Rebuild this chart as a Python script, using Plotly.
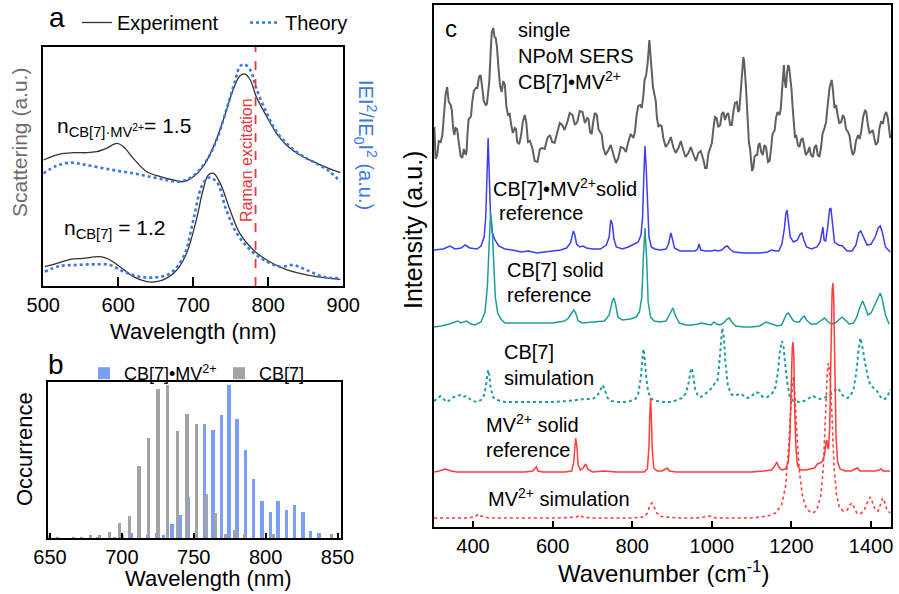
import plotly.graph_objects as go

W, H = 899, 594
FONT = "Liberation Sans, Arial, Helvetica, sans-serif"

# ---------------- Panel a data (x: nm, y: a.u.) ----------------
A_UP_EXP_NM = [500, 522, 540, 558, 571, 584, 598, 607, 620, 638, 656, 673, 687, 700, 713, 727, 740, 753, 762, 769, 776, 784, 798, 811, 824, 842, 860, 878, 896]
A_UP_EXP_V = [378, 396, 400, 400, 403, 413, 428, 418, 383, 343, 328, 318, 313, 328, 358, 418, 498, 588, 630, 636, 618, 568, 508, 458, 423, 393, 373, 355, 340]
A_UP_TH_NM = [500, 518, 536, 553, 576, 598, 620, 642, 664, 682, 700, 718, 731, 744, 756, 762, 768, 776, 784, 798, 811, 829, 847, 864, 882, 896]
A_UP_TH_V = [338, 361, 370, 365, 355, 346, 338, 328, 318, 313, 330, 378, 438, 528, 618, 658, 665, 648, 593, 518, 463, 418, 388, 368, 343, 313]
A_LO_EXP_NM = [502, 518, 536, 553, 576, 589, 602, 620, 638, 651, 664, 678, 691, 704, 713, 720, 727, 736, 749, 762, 780, 798, 820, 842, 864, 896]
A_LO_EXP_V = [58, 68, 80, 83, 88, 78, 58, 28, 13, 13, 23, 48, 98, 198, 288, 333, 338, 308, 228, 158, 108, 78, 53, 38, 28, 20]
A_LO_TH_NM = [502, 522, 544, 567, 589, 607, 629, 651, 669, 687, 700, 711, 720, 731, 744, 758, 776, 798, 816, 833, 851, 873, 896]
A_LO_TH_V = [43, 60, 63, 65, 63, 43, 28, 26, 38, 88, 198, 298, 325, 313, 228, 158, 108, 73, 58, 63, 48, 28, 23]
RAMAN_NM = 783

# ---------------- Panel b data (histogram) ----------------
B_MV_NM = [655.3, 666.5, 672.1, 683.2, 694.9, 700.7, 706.5, 712.3, 718.1, 724.0, 729.3, 735.1, 740.7,
           746.3, 752.1, 757.9, 763.6, 769.4, 774.7, 780.3, 786.1, 791.9, 797.7, 803.5, 808.8, 814.6,
           820.4, 826.2, 831.6, 837.3]
B_MV_N = [5, 5, 5, 5, 5, 12, 18, 12, 12, 18, 12, 45, 70,
          125, 150, 345, 327, 370, 460, 360, 265, 180, 112, 80, 112, 87,
          100, 80, 22, 17]
B_CB_NM = [650.0, 678.1, 684.6, 691.4, 698.7, 705.2, 712.1, 718.9, 725.3, 731.9, 738.8, 745.5, 752.1,
           759.0, 765.5, 772.2, 778.9, 785.7, 805.3, 846.0]
B_CB_N = [10, 10, 12, 20, 47, 67, 217, 302, 450, 460, 323, 375, 343,
          133, 78, 15, 25, 15, 15, 15]

# ---------------- Panel c data (x: cm-1, y: a.u. offset) ----------------
SERS = [(303,400),(306,368),(310,372),(314,386),(319,385),(323,392),(327,412),(331,432),(335,440),(339,425),
        (344,422),(347,416),(350,399),(353,392),(356,399),(360,398),(365,382),(369,371),(373,369),(377,378),
        (382,372),(384,376),(386,392),(389,408),(392,409),(395,411),(398,425),(402,436),(407,439),(411,439),
        (415,450),(419,452),(423,440),(427,426),(432,422),(435,423),(438,435),(441,446),(444,472),(447,494),
        (451,499),(454,490),(457,489),(460,481),(464,459),(468,441),(472,435),(476,446),(480,442),(484,420),
        (488,412),(492,413),(496,402),(500,394),(505,399),(508,398),(511,385),(516,383),(521,392),(525,405),
        (530,412),(534,404),(538,385),(543,386),(549,379),(555,366),(562,365),(568,378),(574,379),(580,378),
        (587,389),(593,392),(599,385),(605,384),(612,395),(618,404),(624,402),(630,397),(637,405),(643,414),
        (650,412),(656,402),(662,405),(668,416),(675,415),(681,404),(687,409),(690,408),(694,395),(698,393),
        (702,405),(706,414),(711,412),(715,398),(719,395),(723,393),(727,380),(733,372),(740,377),(746,382),
        (753,372),(759,364),(765,369),(771,380),(778,379),(784,375),(790,385),(796,393),(803,389),(807,396),
        (811,412),(815,421),(820,422),(824,419),(828,432),(831,447),(835,452),(839,465),(843,487),(846,474),
        (849,455),(852,440),(856,432),(859,426),(862,409),(866,400),(870,402),(874,401),(878,389),(884,380),
        (891,384),(897,390),(903,380),(909,374),(916,379),(922,386),(928,377),(934,370),(941,374),(947,380),
        (954,372),(960,366),(966,374),(972,376),(979,367),(983,359),(987,359),(991,373),(996,379),(1000,384),
        (1004,399),(1008,410),(1012,409),(1016,400),(1021,402),(1025,413),(1029,415),(1033,407),(1037,412),(1041,414),
        (1046,402),(1050,402),(1054,415),(1058,424),(1063,425),(1066,415),(1069,417),(1071,428),(1073,445),(1076,462),
        (1079,470),(1081,466),(1084,452),(1086,438),(1089,415),(1091,398),(1093,385),(1096,378),(1099,365),(1101,356),
        (1104,359),(1107,370),(1111,372),(1114,372),(1117,382),(1120,384),(1124,375),(1128,372),(1132,382),(1136,380),
        (1141,365),(1145,366),(1149,379),(1152,392),(1155,395),(1158,397),(1161,409),(1165,415),(1170,412),(1173,418),
        (1176,435),(1178,452),(1181,462),(1183,446),(1186,439),(1189,455),(1192,462),(1194,460),(1197,449),(1200,438),
        (1203,419),(1206,399),(1209,389),(1212,392),(1216,382),(1220,380),(1224,387),(1228,389),(1232,380),(1236,372),
        (1241,375),(1245,380),(1249,372),(1254,370),(1258,380),(1262,382),(1266,372),(1270,370),(1274,379),(1278,393),
        (1283,399),(1287,405),(1291,422),(1296,440),(1301,447),(1304,438),(1308,419),(1312,422),(1316,412),(1320,404),
        (1325,405),(1329,412),(1333,409),(1337,398),(1342,395),(1346,391),(1350,379),(1354,372),(1358,375),(1362,386),
        (1367,392),(1371,388),(1375,395),(1380,410),(1385,417),(1388,415),(1392,402),(1396,394),(1400,395),(1404,397),
        (1408,389),(1412,382),(1417,385),(1421,399),(1425,405),(1430,404),(1434,412),(1438,415),(1442,409),(1445,396),
        (1448,389)]

CBMV_SOLID = [(302,277),(325,278),(342,281),(355,278),(370,279),(380,282),(392,279),(410,278),(420,281),(428,290),
              (432,310),(435,345),(438,389),(441,350),(444,312),(448,295),(455,287),(465,281),(480,278),(500,277),
              (520,275),(540,276),(560,274),(580,275),(600,276),(620,277),(635,279),(645,284),(652,296),(656,292),
              (660,283),(668,280),(676,281),(685,279),(700,278),(720,278),(735,282),(742,290),(746,307),(750,303),
              (754,288),(760,280),(775,278),(790,280),(805,283),(815,285),(822,292),(826,310),(829,350),(832,381),
              (835,360),(838,320),(842,290),(848,280),(856,278),(870,277),(885,278),(891,283),(897,294),(901,288),
              (906,279),(920,276),(940,276),(958,276),(964,278),(968,283),(972,277),(985,276),(1000,276),(1008,277),
              (1015,276),(1025,277),(1033,280),(1039,281),(1045,278),(1055,275),(1080,274),(1100,274),(1120,274),
              (1140,275),(1150,277),(1160,276),(1168,276),(1176,283),(1182,298),(1186,314),(1189,317),(1192,306),
              (1197,290),(1205,285),(1215,287),(1222,293),(1226,294),(1231,287),(1238,280),(1250,278),(1264,280),
              (1272,285),(1276,295),(1279,300),(1282,287),(1286,286),(1291,300),(1296,318),(1299,319),(1303,305),
              (1308,285),(1318,282),(1328,281),(1340,276),(1352,276),(1362,282),(1369,294),(1374,296),(1380,290),
              (1390,282),(1400,283),(1410,290),(1418,299),(1423,301),(1428,295),(1436,280),(1448,275)]

CB_SOLID = [(302,200),(320,201),(340,203),(355,205),(362,206),(370,204),(383,206),(395,203),(405,202),(420,205),
            (430,215),(436,240),(440,285),(444,314),(448,300),(452,260),(456,230),(462,214),(470,208),(480,204),
            (500,204),(520,204),(560,204),(600,204),(630,206),(640,209),(648,214),(653,217),(658,214),(664,206),
            (675,204),(700,205),(730,206),(742,212),(750,226),(754,229),(758,223),(764,210),(775,207),(795,208),
            (810,210),(818,215),(824,230),(828,270),(832,299),(836,270),(840,225),(846,210),(855,206),(870,205),
            (885,206),(893,212),(899,218),(902,219),(908,212),(918,204),(935,202),(950,202),(965,203),(973,204),
            (985,203),(998,202),(1005,205),(1012,203),(1020,202),(1030,204),(1038,208),(1044,209),(1050,205),
            (1060,201),(1080,200),(1100,200),(1120,201),(1136,205),(1150,203),(1165,201),(1175,202),(1183,208),
            (1188,213),(1192,214),(1198,210),(1205,206),(1212,205),(1220,205),(1226,209),(1232,211),(1238,207),
            (1248,203),(1262,203),(1274,206),(1283,209),(1290,206),(1300,203),(1310,204),(1320,208),(1327,210),
            (1335,207),(1345,203),(1356,204),(1364,210),(1372,220),(1379,226),(1386,219),(1392,212),(1400,214),
            (1410,222),(1418,230),(1423,234),(1428,228),(1436,212),(1445,203)]

CB_SIM = [(302,126),(310,128),(318,131),(326,128),(334,125),(342,127),(352,130),(360,131),(367,132),(375,130),
          (383,131),(392,128),(400,126),(410,125),(420,127),(428,132),(433,142),(436,152),(438,157),(441,152),
          (444,140),(450,130),(460,127),(480,125),(520,125),(560,125),(600,125),(640,126),(660,127),(680,128),
          (700,128),(712,131),(720,137),(726,142),(731,137),(738,129),(748,126),(765,125),(780,125),(795,126),
          (808,128),(815,133),(821,148),(825,168),(828,178),(831,170),(835,150),(840,135),(848,128),(860,126),
          (880,125),(900,125),(915,127),(925,129),(935,134),(942,145),(946,155),(949,159),(953,152),(958,138),
          (965,131),(972,130),(980,132),(990,136),(1000,139),(1008,144),(1014,146),(1018,160),(1022,185),(1026,199),
          (1030,190),(1034,165),(1040,142),(1048,133),(1058,131),(1068,133),(1075,133),(1082,130),(1090,129),
          (1100,131),(1110,135),(1118,134),(1128,130),(1140,130),(1152,134),(1160,140),(1166,155),(1171,176),
          (1176,186),(1180,180),(1185,160),(1190,143),(1196,130),(1205,126),(1220,125),(1232,126),(1240,128),
          (1248,130),(1255,131),(1262,129),(1272,128),(1282,129),(1292,131),(1300,133),(1308,136),(1315,139),
          (1322,136),(1330,131),(1340,129),(1348,131),(1356,138),(1363,155),(1368,175),(1373,189),(1378,180),
          (1384,165),(1390,153),(1398,142),(1408,138),(1415,136),(1422,131),(1428,128),(1435,128),(1442,131),
          (1448,138)]

MV_SOLID = [(302,55),(315,56),(330,58),(345,56),(360,55),(380,55),(400,55),(430,55),(460,55),(500,55),
            (530,55),(550,56),(556,59),(559,60),(563,56),(575,55),(600,55),(630,55),(648,56),(653,65),
            (656,80),(658,89),(661,80),(664,62),(670,57),(677,59),(683,63),(688,58),(700,55),(730,56),
            (760,55),(800,55),(830,55),(838,58),(842,80),(844,110),(846,129),(848,110),(850,80),(854,59),
            (862,56),(875,56),(884,58),(888,59),(893,56),(910,55),(950,55),(1000,55),(1050,55),(1100,55),
            (1130,56),(1150,57),(1158,61),(1163,65),(1168,60),(1175,57),(1185,58),(1192,65),(1196,90),(1199,140),
            (1202,180),(1204,185),(1206,170),(1208,120),(1211,80),(1215,62),(1222,57),(1235,57),(1248,58),(1258,59),
            (1265,63),(1272,64),(1278,66),(1283,72),(1287,85),(1289,87),(1291,80),(1293,78),(1296,100),(1299,180),
            (1302,235),(1304,244),(1306,230),(1309,160),(1312,90),(1316,65),(1322,58),(1335,56),(1350,56),(1360,58),
            (1366,59),(1372,56),(1390,56),(1410,56),(1420,57),(1425,58),(1430,56),(1448,56)]

MV_SIM = [(302,9),(340,9),(380,9),(405,10),(413,13),(420,11),(440,9),(500,9),(560,9),(620,9),
          (660,10),(668,12),(675,10),(700,9),(760,9),(800,9),(830,10),(838,14),(844,21),(849,24),
          (854,21),(860,15),(868,11),(880,10),(920,9),(960,9),(980,10),(995,11),(1010,9),(1050,9),
          (1100,9),(1140,11),(1160,14),(1175,22),(1185,40),(1193,80),(1200,130),(1205,150),(1209,130),(1214,90),
          (1220,55),(1228,30),(1238,18),(1250,14),(1258,15),(1266,20),(1274,32),(1280,60),(1285,110),(1290,155),
          (1293,164),(1297,150),(1302,110),(1307,60),(1313,33),(1320,20),(1330,16),(1340,17),(1347,22),(1352,24),
          (1357,20),(1364,14),(1372,13),(1382,16),(1390,24),(1398,30),(1404,24),(1410,17),(1418,16),(1424,22),
          (1429,29),(1434,25),(1440,17),(1448,14)]

A_TICKS = [500, 600, 700, 800, 900]
B_TICKS = [650, 700, 750, 800, 850]
C_TICKS = [400, 600, 800, 1000, 1200, 1400]

# ---------------- helpers ----------------
def px(x):
    return x / W

def py(y):
    return 1 - y / H

def xs(pts):
    return [p[0] for p in pts]

def ys(pts):
    return [p[1] for p in pts]

C_GRAY = "#606060"
C_BLUE = "#3d3df2"
C_TEAL = "#1f9c9c"
C_RED = "#ff3b3b"
C_THEORY = "#3a78de"
C_BAR_BLUE = "#7b9ef7"
C_BAR_GRAY = "#a3a3a3"

fig = go.Figure()

# Panel a
fig.add_trace(go.Scatter(x=A_UP_EXP_NM, y=A_UP_EXP_V, mode="lines", line=dict(color="#333333", width=1.3, shape="spline"),
                         name="Experiment", legend="legend", xaxis="x", yaxis="y"))
fig.add_trace(go.Scatter(x=A_UP_TH_NM, y=A_UP_TH_V, mode="lines", line=dict(color=C_THEORY, width=2.6, dash="dot", shape="spline"),
                         name="Theory", legend="legend", xaxis="x", yaxis="y"))
fig.add_trace(go.Scatter(x=A_LO_EXP_NM, y=A_LO_EXP_V, mode="lines", line=dict(color="#333333", width=1.3, shape="spline"),
                         showlegend=False, xaxis="x", yaxis="y"))
fig.add_trace(go.Scatter(x=A_LO_TH_NM, y=A_LO_TH_V, mode="lines", line=dict(color=C_THEORY, width=2.6, dash="dot", shape="spline"),
                         showlegend=False, xaxis="x", yaxis="y"))

# Panel b
fig.add_trace(go.Bar(x=B_MV_NM, y=B_MV_N, width=2.2, marker=dict(color=C_BAR_BLUE, line=dict(width=0)),
                     name="CB[7]•MV<sup>2+</sup>", legend="legend2", xaxis="x2", yaxis="y2"))
fig.add_trace(go.Bar(x=B_CB_NM, y=B_CB_N, width=2.2, marker=dict(color=C_BAR_GRAY, line=dict(width=0)),
                     name="CB[7]", legend="legend2", xaxis="x2", yaxis="y2"))

# Panel c
for pts, col, wd, dash in [(SERS, C_GRAY, 2.0, "solid"), (CBMV_SOLID, C_BLUE, 1.5, "solid"),
                           (CB_SOLID, C_TEAL, 1.5, "solid"), (CB_SIM, C_TEAL, 2.0, "dot"),
                           (MV_SOLID, C_RED, 1.5, "solid"), (MV_SIM, C_RED, 1.6, "dot")]:
    fig.add_trace(go.Scatter(x=xs(pts), y=ys(pts), mode="lines", line=dict(color=col, width=wd, dash=dash),
                             showlegend=False, xaxis="x3", yaxis="y3"))

axis_common = dict(showline=True, mirror=True, linecolor="black", linewidth=1.5, showgrid=False, zeroline=False,
                   ticks="inside", tickcolor="black", tickwidth=1.5, automargin=False,
                   tickfont=dict(size=20, color="black", family=FONT))
yaxis_common = dict(showticklabels=False, ticks="", showline=True, mirror=True, linecolor="black", linewidth=1.5,
                    showgrid=False, zeroline=False, automargin=False)

fig.update_layout(
    width=W, height=H, margin=dict(l=0, r=0, t=0, b=0, pad=0, autoexpand=False),
    paper_bgcolor="white", plot_bgcolor="white",
    font=dict(family=FONT, color="black"),
    barmode="overlay", bargap=0,
    xaxis=dict(domain=[px(43.3), px(343.3)], range=[500, 900], tickvals=A_TICKS, ticklen=9, anchor="y", **axis_common),
    yaxis=dict(domain=[py(286), py(46.7)], range=[0, 718], anchor="x", **yaxis_common),
    xaxis2=dict(domain=[px(48.3), px(340.7)], range=[648.8, 852.2], tickvals=B_TICKS, ticklen=6, anchor="y2", **axis_common),
    yaxis2=dict(domain=[py(538.3), py(381.7)], range=[0, 470], anchor="x2", **yaxis_common),
    xaxis3=dict(domain=[px(434), px(891)], range=[302, 1450], tickvals=C_TICKS, ticklen=6, anchor="y3", **axis_common),
    yaxis3=dict(domain=[py(527), py(5)], range=[0, 522], anchor="x3", **yaxis_common),
    legend=dict(x=px(77), y=py(3), xanchor="left", yanchor="top", orientation="h", font=dict(size=20, family=FONT),
                bgcolor="rgba(0,0,0,0)", entrywidth=123, itemwidth=30),
    legend2=dict(x=px(84), y=py(355), xanchor="left", yanchor="top", orientation="h", font=dict(size=18, family=FONT),
                 bgcolor="rgba(0,0,0,0)", entrywidth=90, itemwidth=30),
)

fig.add_shape(type="line", xref="x", yref="y domain", x0=RAMAN_NM, x1=RAMAN_NM, y0=0, y1=1,
              line=dict(color="#e8383d", width=1.8, dash="dash"))

ann = []

def text(x, y, t, size=20, color="black", xanchor="left", angle=0, yanchor="middle"):
    ann.append(dict(x=px(x), y=py(y), xref="paper", yref="paper", text=t, showarrow=False,
                    font=dict(size=size, color=color, family=FONT), xanchor=xanchor, yanchor=yanchor,
                    textangle=angle, align="left"))

# panel letters
text(57, 17, "a", size=28, xanchor="center")
text(56, 364, "b", size=28, xanchor="center")
text(451, 28, "c", size=24, xanchor="center")

# panel a texts
text(55, 127, "n<sub>CB[7]·MV<sup>2+</sup></sub>= 1.5", size=21)
text(62, 229, "n<sub>CB[7]</sub> = 1.2", size=21)
text(246, 160, "Raman excitation", size=16, color="#e8383d", xanchor="center", angle=-90)
text(20, 143, "Scattering (a.u.)", size=21, color="#6e6e6e", xanchor="center", angle=-90)
text(366, 145, "IEI<sup>2</sup>/IE<sub>0</sub>I<sup>2</sup> (a.u.)", size=20, color=C_THEORY, xanchor="center", angle=90)
text(193, 331, "Wavelength (nm)", size=22, xanchor="center")

# panel b texts
text(25, 449, "Occurrence", size=22, xanchor="center", angle=-90)
text(208, 578, "Wavelength (nm)", size=22, xanchor="center")

# panel c texts
text(413, 230, "Intensity (a.u.)", size=25, xanchor="center", angle=-90)
text(663, 572, "Wavenumber (cm<sup>-1</sup>)", size=24, xanchor="center")
text(516, 56, "single<br>NPoM SERS<br>CB[7]•MV<sup>2+</sup>", size=20)
text(491, 187, "CB[7]•MV<sup>2+</sup>solid", size=20)
text(497, 213, "reference", size=20)
text(505, 270, "CB[7] solid", size=20)
text(505, 295, "reference", size=20)
text(502, 352, "CB[7]", size=20)
text(502, 378, "simulation", size=20)
text(484, 423, "MV<sup>2+</sup> solid", size=20)
text(484, 450, "reference", size=20)
text(486, 497, "MV<sup>2+</sup> simulation", size=20)

fig.update_layout(annotations=ann)
fig.write_html("out.html", config={"displayModeBar": False},
               post_script="document.body.style.margin='0px';document.body.style.overflow='hidden';")
